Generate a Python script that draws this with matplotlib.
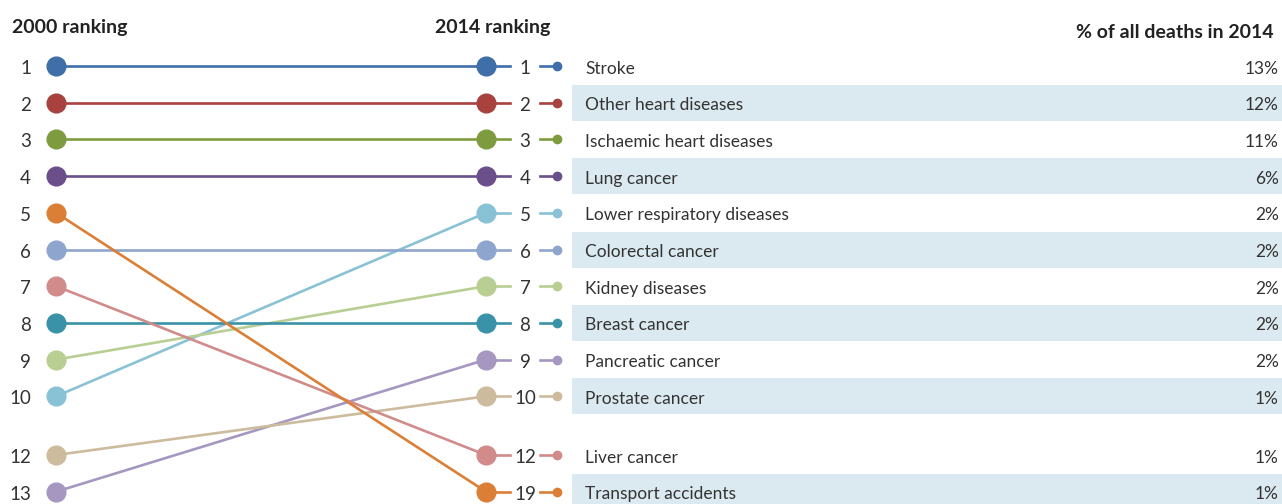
import matplotlib.pyplot as plt

plt.rcParams['font.family'] = ['Lato', 'DejaVu Sans']

# data
causes = ['Stroke', 'Other heart diseases', 'Ischaemic heart diseases', 'Lung cancer',
          'Lower respiratory diseases', 'Colorectal cancer', 'Kidney diseases',
          'Breast cancer', 'Pancreatic cancer', 'Prostate cancer', 'Liver cancer',
          'Transport accidents']
rank_2014 = [1, 2, 3, 4, 5, 6, 7, 8, 9, 10, 12, 19]
rank_2000 = [1, 2, 3, 4, 10, 6, 9, 8, 13, 12, 7, 5]
share_2014 = [13, 12, 11, 6, 2, 2, 2, 2, 2, 1, 1, 1]
colors = ['#3f6ea9', '#a9413f', '#7e9c3f', '#6a4f8b', '#8ac2d5', '#8ea5ce',
          '#b8ce93', '#3a92a8', '#a597c0', '#cdbb9e', '#d18b8b', '#dc7f36']


# vertical slot for a rank: ranks 1-10 sequential, then a gap
def slot(r):
    if r <= 10:
        return r - 1
    return 10.6 if r == 12 else 11.6


def ypix(r):
    return 66 + slot(r) * 36.7


fig = plt.figure(figsize=(12.82, 5.04), dpi=100)
ax = fig.add_axes([0, 0, 1, 1])
ax.set_xlim(0, 1282)
ax.set_ylim(504, 0)
ax.axis('off')

x_left, x_right = 56, 486
txt_col = '#333333'
dy = 2.5  # text sits a touch below the marker centre

# bands behind every other row
for i, r in enumerate(rank_2014):
    if i % 2 == 1:
        y = ypix(r)
        ax.add_patch(plt.Rectangle((572, y - 18), 710, 36, color='#dbeaf1', lw=0, zorder=0))

# left rank labels
for r in rank_2000:
    ax.text(31, ypix(r) + dy, str(r), ha='right', va='center', fontsize=13.5, color=txt_col)

for name, r0, r1, pct, c in zip(causes, rank_2000, rank_2014, share_2014, colors):
    y0, y1 = ypix(r0), ypix(r1)
    ax.plot([x_left, x_right], [y0, y1], color=c, lw=1.9, zorder=2, solid_capstyle='round')
    ax.plot([x_left], [y0], 'o', ms=13.5, color=c, zorder=3)
    ax.plot([x_right], [y1], 'o', ms=13.5, color=c, zorder=3)
    ax.plot([x_right, 510], [y1, y1], color=c, lw=1.9, zorder=2)
    ax.text(525, y1 + dy, str(r1), ha='center', va='center', fontsize=13.5, color=txt_col)
    ax.plot([540, 557], [y1, y1], color=c, lw=1.9, zorder=2)
    ax.plot([557], [y1], 'o', ms=6, color=c, zorder=3)
    ax.text(585, y1 + dy, name, ha='left', va='center', fontsize=12.5, color=txt_col)
    ax.text(1279, y1 + dy, f'{pct}%', ha='right', va='center', fontsize=12.5, color=txt_col)

ax.text(12, 28, '2000 ranking', ha='left', va='center', fontsize=14, fontweight='bold', color='#222222')
ax.text(550, 28, '2014 ranking', ha='right', va='center', fontsize=14, fontweight='bold', color='#222222')
ax.text(1274, 33, '% of all deaths in 2014', ha='right', va='center', fontsize=14,
        fontweight='bold', color='#222222')

fig.savefig('out.png', dpi=100)
